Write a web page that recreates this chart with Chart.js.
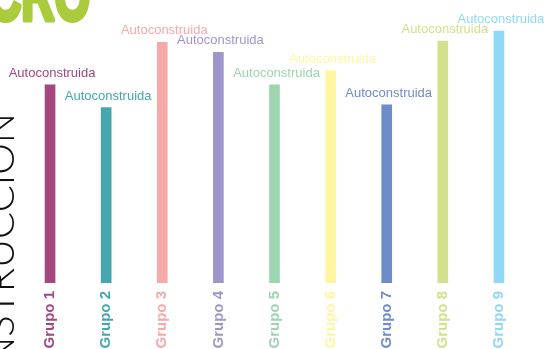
<!DOCTYPE html>
<html>
<head>
<meta charset="utf-8">
<script src="https://cdn.jsdelivr.net/npm/chart.js@4.4.1/dist/chart.umd.min.js"></script>
<style>
    html, body { margin: 0; padding: 0; background: #fff; }
    #wrap { position: relative; width: 544px; height: 349px; overflow: hidden; }
</style>
</head>
<body>
<div id="wrap"><canvas id="chart" width="544" height="349"></canvas></div>
<script>
const groups = ["Grupo 1", "Grupo 2", "Grupo 3", "Grupo 4", "Grupo 5", "Grupo 6", "Grupo 7", "Grupo 8", "Grupo 9"];
const values = [70, 62, 85, 81.5, 70, 75, 63, 85.5, 89];
const seriesName = "Autoconstruida";
const colors = ["#a6467f", "#46a6ae", "#f7a8a8", "#9e96cb", "#9cd5b0", "#fff6a0", "#6d8cc8", "#d3e18b", "#8fd8f6"];

// textos decorativos de fondo (cortados por el borde)
const decoPlugin = {
    id: "deco",
    beforeDraw(chart) {
        const ctx = chart.ctx;
        ctx.save();
        ctx.fillStyle = "#aacb3b";
        ctx.strokeStyle = "#aacb3b";
        ctx.lineWidth = 5;
        ctx.lineJoin = "round";
        ctx.font = 'bold 72px "Liberation Sans", Arial, sans-serif';
        ctx.textBaseline = "alphabetic";
        ctx.textAlign = "left";
        ctx.translate(-12, 20);
        ctx.scale(0.64, 1);
        ctx.fillText("CRO", 0, 0);
        ctx.strokeText("CRO", 0, 0);
        ctx.restore();

        ctx.save();
        ctx.fillStyle = "#111";
        ctx.font = '300 40px "Lato", "Open Sans", sans-serif';
        ctx.translate(14, 113);
        ctx.rotate(-Math.PI / 2);
        ctx.textAlign = "right";
        ctx.textBaseline = "alphabetic";
        ctx.fillText("AUTOCONSTRUCCIÓN", 0, 0);
        ctx.restore();
    },
};

// etiqueta encima de cada barra
const labelPlugin = {
    id: "barLabels",
    afterDatasetsDraw(chart) {
        const ctx = chart.ctx;
        const meta = chart.getDatasetMeta(0);
        ctx.save();
        ctx.font = '13px "Liberation Sans", Arial, sans-serif';
        ctx.textAlign = "center";
        ctx.textBaseline = "alphabetic";
        meta.data.forEach((bar, i) => {
            ctx.fillStyle = colors[i];
            ctx.fillText(seriesName, bar.x + 2, bar.y - 8);
        });
        ctx.restore();
    },
};

new Chart(document.querySelector("#chart"), {
    type: "bar",
    data: {
        labels: groups,
        datasets: [
            {
                label: seriesName,
                data: values,
                backgroundColor: colors,
                borderWidth: 0,
                barThickness: 10,
            },
        ],
    },
    options: {
        responsive: false,
        animation: false,
        layout: {
            padding: { left: 22, right: 17, top: 0, bottom: 0 },
        },
        scales: {
            y: {
                display: false,
                min: 0,
                max: 100,
            },
            x: {
                grid: { display: false },
                border: { display: false },
                afterFit: (scale) => {
                    scale.height = 66;
                },
                ticks: {
                    minRotation: 90,
                    maxRotation: 90,
                    padding: 0,
                    autoSkip: false,
                    color: (c) => colors[c.index],
                    font: { family: '"Liberation Sans", Arial, sans-serif', size: 15, weight: "bold" },
                },
            },
        },
        plugins: {
            legend: { display: false },
            tooltip: { enabled: false },
        },
    },
    plugins: [decoPlugin, labelPlugin],
});
</script>
</body>
</html>
